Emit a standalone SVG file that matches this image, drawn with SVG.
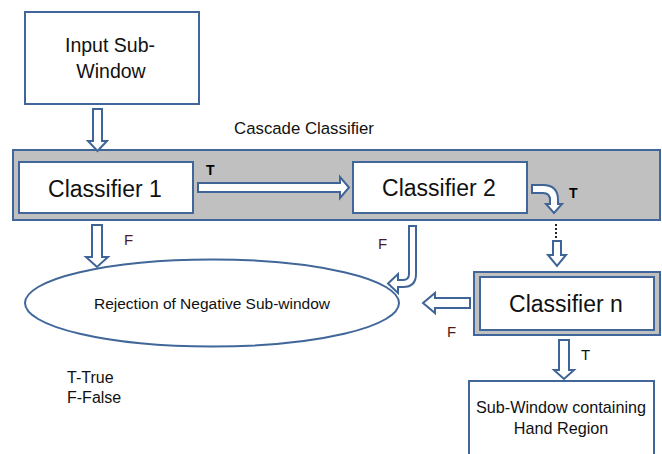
<svg xmlns="http://www.w3.org/2000/svg" width="662" height="454" viewBox="0 0 662 454">
  <style>
    .box { fill: #ffffff; stroke: #41679a; stroke-width: 2; }
    .band { fill: #c0c0c0; stroke: #41679a; stroke-width: 2; }
    .arrow { fill: #ffffff; stroke: #3f6497; stroke-width: 2; stroke-linejoin: miter; }
    .big { font-family: "Liberation Sans", Arial, sans-serif; font-size: 23px; fill: #111111; text-anchor: middle; }
    .mid { font-family: "Liberation Sans", Arial, sans-serif; font-size: 19.5px; fill: #111111; text-anchor: middle; }
    .small { font-family: "Liberation Sans", Arial, sans-serif; font-size: 15.5px; fill: #111111; text-anchor: middle; }
    .lbl { font-family: "Liberation Sans", Arial, sans-serif; font-size: 16px; fill: #111111; }
    .tb { font-family: "Liberation Sans", Arial, sans-serif; font-size: 14px; font-weight: bold; fill: #000000; }
    .f { font-family: "Liberation Sans", Arial, sans-serif; font-size: 15px; fill: #4b1a24; }
  </style>

  <!-- cascade band -->
  <g id="cascade">
    <rect class="band" x="13" y="150" width="647" height="70"/>
    <text class="lbl" x="304" y="134" style="text-anchor: middle; font-size: 16.8px">Cascade Classifier</text>
  </g>

  <g id="input">
    <rect class="box" x="25" y="12" width="174" height="92"/>
    <text class="mid" x="110" y="52">Input Sub-</text>
    <text class="mid" x="111" y="78">Window</text>
  </g>

  <g id="classifier1">
    <rect class="box" x="19" y="162" width="174" height="51"/>
    <text class="big" x="105" y="197">Classifier 1</text>
  </g>

  <g id="classifier2">
    <rect class="box" x="353" y="162" width="174" height="51"/>
    <text class="big" x="439" y="196">Classifier 2</text>
  </g>

  <g id="classifierN">
    <rect class="band" x="474" y="272" width="186" height="63"/>
    <rect class="box" x="480" y="277" width="174" height="53"/>
    <text class="big" x="566" y="312">Classifier n</text>
  </g>

  <g id="rejection">
    <ellipse class="box" cx="212" cy="303" rx="187" ry="43.5"/>
    <text class="small" x="212" y="309">Rejection of Negative Sub-window</text>
  </g>

  <g id="output">
    <rect class="box" x="469" y="381" width="185" height="80"/>
    <text class="small" x="561" y="413" style="font-size: 16.2px">Sub-Window containing</text>
    <text class="small" x="561" y="434" style="font-size: 16.2px">Hand Region</text>
  </g>

  <g id="legend">
    <text class="lbl" x="67" y="383">T-True</text>
    <text class="lbl" x="67" y="403">F-False</text>
  </g>

  <!-- block arrows between stages -->
  <g id="connectors">
    <path class="arrow" d="M93,109 H102 V141 H107 L97.5,151 L88,141 H93 Z"/>
    <path class="arrow" d="M198,183 H340 V177 L349,187.5 L340,198 V192 H198 Z"/>
    <text class="tb" x="206" y="175">T</text>

    <path class="arrow" d="M532,185 H543 Q558,185 558,200 V204 H562 L554,213 L546,204 H550 V200 Q550,193 543,193 H532 Z"/>
    <text class="tb" x="569" y="198">T</text>
    <line x1="556" y1="224" x2="556" y2="238" stroke="#222222" stroke-width="2" stroke-dasharray="2,2"/>
    <path class="arrow" d="M553,241 H561 V255 H566 L557,266 L548,255 H553 Z"/>

    <path class="arrow" d="M92,225 H102 V257 H108 L97,267 L86,257 H92 Z"/>
    <text class="f" x="124" y="245">F</text>

    <path class="arrow" d="M409,226 H416 V274 Q416,287 403,287 H398 V293 L388,283.5 L398,274 V280 H403 Q409,280 409,274 Z"/>
    <text class="f" x="378" y="249">F</text>

    <path class="arrow" d="M470,298 H435 V293 L423,303 L435,313 V308 H470 Z"/>
    <text class="f" x="447" y="337">F</text>

    <path class="arrow" d="M559,340 H569 V370 H574 L564,379 L554,370 H559 Z"/>
    <text class="lbl" x="581" y="360" style="font-size: 15px">T</text>
  </g>
</svg>
